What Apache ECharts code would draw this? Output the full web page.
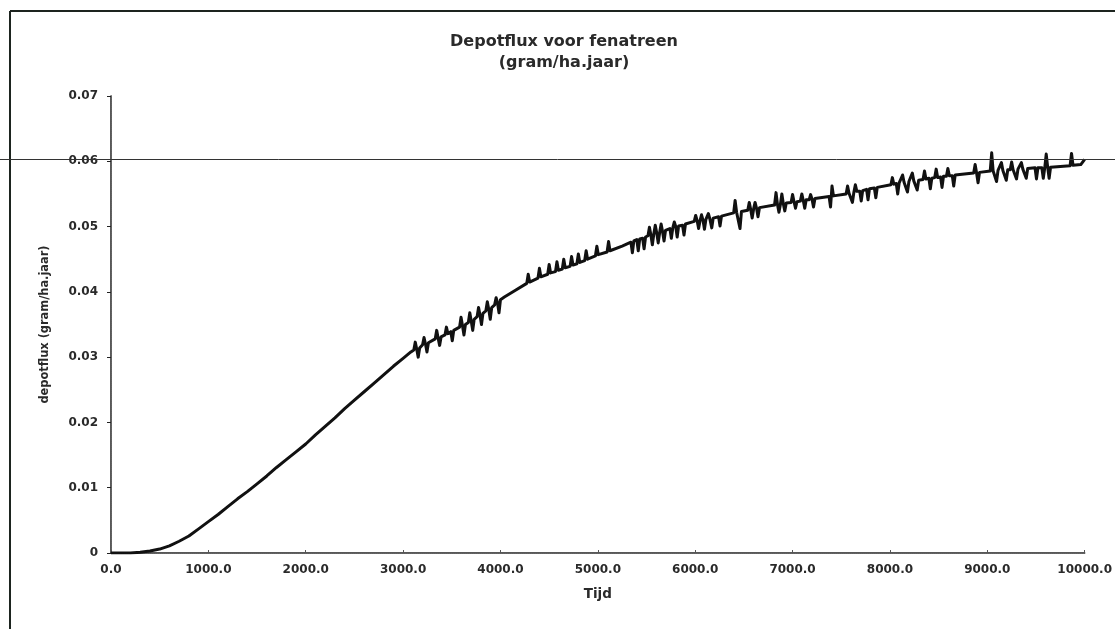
<!DOCTYPE html>
<html>
<head>
<meta charset="utf-8">
<script src="https://cdn.jsdelivr.net/npm/echarts@6/dist/echarts.min.js"></script>
<style>
html,body{margin:0;padding:0;background:#fff;}
#chart{width:1115px;height:629px;}
</style>
</head>
<body>
<div id="chart"></div>
<script>
// ---- data ----
const titleLines = ['Depotflux voor fenatreen', '(gram/ha.jaar)'];
const xAxisName = 'Tijd';
const yAxisName = 'depotflux (gram/ha.jaar)';
const xTicks = [0, 1000, 2000, 3000, 4000, 5000, 6000, 7000, 8000, 9000, 10000];
const yTicks = [0, 0.01, 0.02, 0.03, 0.04, 0.05, 0.06, 0.07];

// smooth rise: [tijd, flux]
const smoothPart = [
  [0, 0], [100, 0], [200, 0], [300, 0.0001], [400, 0.0003], [500, 0.0006],
  [600, 0.0011], [700, 0.0018], [800, 0.0026], [900, 0.0037], [1000, 0.0048],
  [1100, 0.0059], [1200, 0.0071], [1300, 0.0083], [1400, 0.0094], [1500, 0.0106],
  [1600, 0.0118], [1700, 0.0131], [1800, 0.0143], [1900, 0.0155], [2000, 0.0167],
  [2100, 0.0181], [2200, 0.0194], [2300, 0.0207], [2400, 0.0221], [2500, 0.0234],
  [2600, 0.0247], [2700, 0.0260], [2800, 0.0273], [2900, 0.0286]
];

// noisy part with narrow spikes: [tijd, flux]
const noisyPart = [
  [3000, 0.0298], [3080, 0.0308],
  [3110, 0.0311], [3125, 0.0323], [3140, 0.0312], [3155, 0.0300], [3170, 0.0314],
  [3200, 0.0319], [3215, 0.0330], [3230, 0.0320], [3245, 0.0308], [3260, 0.0322],
  [3330, 0.0328], [3345, 0.0341], [3360, 0.0329], [3375, 0.0318], [3390, 0.0331],
  [3430, 0.0334], [3445, 0.0346], [3460, 0.0336],
  [3490, 0.0339], [3505, 0.0325], [3520, 0.0341],
  [3580, 0.0346], [3595, 0.0361], [3610, 0.0348], [3625, 0.0334], [3640, 0.0350],
  [3670, 0.0353], [3685, 0.0368], [3700, 0.0355], [3715, 0.0341], [3730, 0.0358],
  [3760, 0.0362], [3775, 0.0376], [3790, 0.0364], [3805, 0.0350], [3820, 0.0367],
  [3850, 0.0371], [3865, 0.0385], [3880, 0.0373], [3895, 0.0358], [3910, 0.0376],
  [3940, 0.0380], [3955, 0.0391], [3970, 0.0383], [3985, 0.0368], [4000, 0.0388],
  [4040, 0.0392], [4150, 0.0402],
  [4270, 0.0413], [4285, 0.0427], [4300, 0.0415],
  [4385, 0.0421], [4400, 0.0436], [4415, 0.0423],
  [4485, 0.0427], [4500, 0.0442], [4515, 0.0429],
  [4565, 0.0431], [4580, 0.0446], [4595, 0.0433],
  [4635, 0.0435], [4650, 0.0450], [4665, 0.0437],
  [4715, 0.0439], [4730, 0.0454], [4745, 0.0441],
  [4785, 0.0443], [4800, 0.0458], [4815, 0.0445],
  [4865, 0.0448], [4880, 0.0463], [4895, 0.0450],
  [4975, 0.0455], [4990, 0.0470], [5005, 0.0457],
  [5095, 0.0461], [5110, 0.0477], [5125, 0.0463],
  [5250, 0.0470],
  [5340, 0.0476], [5355, 0.0460], [5370, 0.0478],
  [5400, 0.0480], [5415, 0.0463], [5430, 0.0481],
  [5460, 0.0482], [5475, 0.0466], [5490, 0.0484],
  [5515, 0.0486], [5530, 0.0499], [5545, 0.0487], [5560, 0.0472], [5575, 0.0489],
  [5590, 0.0502], [5605, 0.0490], [5620, 0.0475], [5635, 0.0491], [5650, 0.0504],
  [5665, 0.0492], [5680, 0.0478], [5695, 0.0494],
  [5740, 0.0497], [5755, 0.0482], [5770, 0.0498], [5785, 0.0507], [5800, 0.0500],
  [5815, 0.0484], [5830, 0.0501],
  [5870, 0.0502], [5885, 0.0487], [5900, 0.0504],
  [5990, 0.0508], [6005, 0.0517], [6020, 0.0509], [6035, 0.0497], [6050, 0.0509],
  [6065, 0.0518], [6080, 0.0510], [6095, 0.0496], [6110, 0.0511], [6135, 0.0520],
  [6150, 0.0512], [6170, 0.0498], [6185, 0.0513],
  [6240, 0.0515], [6255, 0.0501], [6270, 0.0516],
  [6395, 0.0521], [6410, 0.0540], [6425, 0.0522], [6445, 0.0522], [6460, 0.0497],
  [6475, 0.0523],
  [6540, 0.0525], [6555, 0.0537], [6570, 0.0526], [6585, 0.0513], [6600, 0.0527],
  [6615, 0.0537], [6630, 0.0528], [6645, 0.0515], [6660, 0.0529],
  [6815, 0.0533], [6830, 0.0552], [6845, 0.0534], [6860, 0.0522], [6875, 0.0534],
  [6890, 0.0550], [6905, 0.0535], [6920, 0.0524], [6935, 0.0536],
  [6985, 0.0537], [7000, 0.0549], [7015, 0.0538], [7030, 0.0528], [7045, 0.0538],
  [7080, 0.0539], [7095, 0.0550], [7110, 0.0540], [7125, 0.0528], [7140, 0.0541],
  [7170, 0.0541], [7185, 0.0549], [7200, 0.0542], [7215, 0.0530], [7230, 0.0543],
  [7375, 0.0546], [7390, 0.0530], [7405, 0.0562], [7420, 0.0547],
  [7550, 0.0550], [7565, 0.0562], [7580, 0.0551], [7600, 0.0552], [7615, 0.0537],
  [7630, 0.0553], [7645, 0.0564], [7660, 0.0554], [7690, 0.0554], [7705, 0.0539],
  [7720, 0.0555], [7760, 0.0557], [7775, 0.0541], [7790, 0.0558], [7840, 0.0559],
  [7855, 0.0544], [7870, 0.0560],
  [8010, 0.0564], [8025, 0.0575], [8040, 0.0565], [8065, 0.0566], [8080, 0.0550],
  [8095, 0.0567], [8115, 0.0567], [8130, 0.0579], [8145, 0.0568], [8165, 0.0568],
  [8180, 0.0553], [8195, 0.0569], [8215, 0.0569], [8230, 0.0582], [8245, 0.0570],
  [8265, 0.0571], [8280, 0.0556], [8295, 0.0571], [8340, 0.0572], [8355, 0.0585],
  [8370, 0.0573], [8400, 0.0574], [8415, 0.0558], [8430, 0.0574], [8460, 0.0575],
  [8475, 0.0588], [8490, 0.0575], [8520, 0.0576], [8535, 0.0560], [8550, 0.0577],
  [8580, 0.0577], [8595, 0.0589], [8610, 0.0578], [8640, 0.0578], [8655, 0.0562],
  [8670, 0.0579],
  [8860, 0.0582], [8875, 0.0595], [8890, 0.0582], [8905, 0.0567], [8920, 0.0583],
  [9030, 0.0585], [9045, 0.0613], [9060, 0.0585], [9080, 0.0585], [9095, 0.0569],
  [9110, 0.0586], [9130, 0.0586], [9145, 0.0598], [9160, 0.0586], [9180, 0.0587],
  [9195, 0.0571], [9210, 0.0587], [9235, 0.0587], [9250, 0.0599], [9265, 0.0587],
  [9285, 0.0588], [9300, 0.0573], [9315, 0.0588], [9335, 0.0588], [9350, 0.0598],
  [9365, 0.0588], [9385, 0.0589], [9400, 0.0574], [9415, 0.0589],
  [9490, 0.0590], [9505, 0.0573], [9520, 0.0590], [9560, 0.0590], [9575, 0.0574],
  [9590, 0.0590], [9605, 0.0611], [9620, 0.0591], [9635, 0.0574], [9650, 0.0591],
  [9850, 0.0593], [9865, 0.0612], [9880, 0.0594], [9895, 0.0594],
  [9960, 0.0595], [10000, 0.0603]
];

// ---- chart ----
const FONT = '"DejaVu Sans", "Liberation Sans", Arial, sans-serif';
const chart = echarts.init(document.getElementById('chart'), null, {renderer: 'canvas'});
const xMin = xTicks[0], xMax = xTicks[xTicks.length - 1];
const yMin = yTicks[0], yMax = yTicks[yTicks.length - 1];
const xStep = xTicks[1] - xTicks[0], yStep = yTicks[1] - yTicks[0];

const option = {
  backgroundColor: '#ffffff',
  animation: false,
  grid: {left: 111, top: 96, right: 28, bottom: 76, containLabel: false},
  graphic: [
    {type: 'line', silent: true, shape: {x1: 10, y1: 11, x2: 1115, y2: 11},
     style: {stroke: '#1d241f', lineWidth: 2}},
    {type: 'line', silent: true, shape: {x1: 10, y1: 11, x2: 10, y2: 629},
     style: {stroke: '#1d241f', lineWidth: 2}},
    {type: 'line', silent: true, z: 100, shape: {x1: 0, y1: 159.5, x2: 1115, y2: 159.5},
     style: {stroke: '#333', lineWidth: 1}},
    {type: 'text', silent: true, style: {x: 564, y: 42, text: titleLines[0], align: 'center',
      verticalAlign: 'middle', font: 'bold 16px ' + FONT, fill: '#2a2a2a'}},
    {type: 'text', silent: true, style: {x: 564, y: 63, text: titleLines[1], align: 'center',
      verticalAlign: 'middle', font: 'bold 16px ' + FONT, fill: '#2a2a2a'}}
  ],
  xAxis: [{
    type: 'value', min: xMin, max: xMax, interval: xStep,
    name: xAxisName, nameLocation: 'middle', nameGap: 34,
    nameTextStyle: {fontFamily: FONT, fontWeight: 'bold', fontSize: 13.5, color: '#2a2a2a'},
    axisLine: {show: true, onZero: false, lineStyle: {color: '#222', width: 1.5}},
    axisTick: {show: true, length: 3, inside: true, lineStyle: {color: '#555'}},
    axisLabel: {margin: 11, fontFamily: FONT, fontWeight: 'bold', fontSize: 12, color: '#2a2a2a',
      formatter: v => v.toFixed(1)},
    splitLine: {show: false}
  }, {
    type: 'value', position: 'top', min: xMin, max: xMax,
    axisLine: {show: true, lineStyle: {color: '#666', width: 1, type: 'dotted'}},
    axisTick: {show: false}, axisLabel: {show: false}, splitLine: {show: false}
  }],
  yAxis: [{
    type: 'value', min: yMin, max: yMax, interval: yStep,
    name: yAxisName, nameLocation: 'middle', nameGap: 60, nameRotate: 90,
    nameTextStyle: {fontFamily: FONT, fontWeight: 'bold', fontSize: 11.4, color: '#2a2a2a'},
    axisLine: {show: true, onZero: false, lineStyle: {color: '#222', width: 1.5}},
    axisTick: {show: true, length: 4, lineStyle: {color: '#222'}},
    axisLabel: {margin: 13, fontFamily: FONT, fontWeight: 'bold', fontSize: 12, color: '#2a2a2a',
      formatter: v => (v === 0 ? '0' : v.toFixed(2))},
    splitLine: {show: false}
  }, {
    type: 'value', position: 'right', min: yMin, max: yMax,
    axisLine: {show: true, lineStyle: {color: '#666', width: 1, type: 'dotted'}},
    axisTick: {show: false}, axisLabel: {show: false}, splitLine: {show: false}
  }],
  series: [{
    type: 'line',
    data: smoothPart.concat(noisyPart),
    showSymbol: false,
    symbol: 'none',
    smooth: false,
    lineStyle: {color: '#111', width: 3, join: 'round'},
    clip: true
  }]
};
chart.setOption(option);
</script>
</body>
</html>
